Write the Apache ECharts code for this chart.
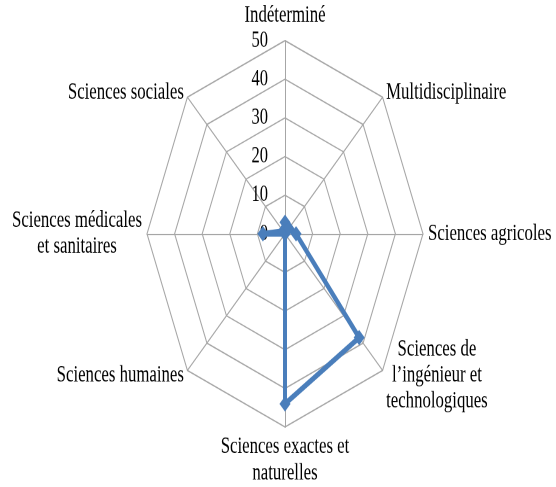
<!DOCTYPE html>
<html>
<head>
<meta charset="utf-8">
<script src="https://cdn.jsdelivr.net/npm/echarts@6/dist/echarts.min.js"></script>
<style>
  html, body { margin: 0; padding: 0; background: #ffffff; overflow: hidden; }
  #wrap { width: 556px; height: 487px; overflow: hidden; }
  /* the reference picture is stretched vertically, so is this one */
  #chart { width: 556px; height: 348px; transform: scaleY(1.4); transform-origin: 0 0; }
</style>
</head>
<body>
<div id="wrap"><div id="chart"></div></div>
<script>
  // axes, clockwise from the top
  const categories = [
    'Indéterminé',
    'Multidisciplinaire',
    'Sciences agricoles',
    'Sciences de\nl’ingénieur et\ntechnologiques',
    'Sciences exactes et\nnaturelles',
    'Sciences humaines',
    'Sciences médicales\net sanitaires',
    'Sciences sociales'
  ];
  const values = [3, 2, 4, 38, 44, 0, 8, 1];
  const tickLabels = ['0', '10', '20', '30', '40', '50'];
  const axisMax = 50;

  const font = 'Liberation Serif';
  const grey = '#a6a6a6';
  const blue = '#4a7ebb';

  // echarts lays radar axes out counter-clockwise
  const order = [0, 7, 6, 5, 4, 3, 2, 1];

  const indicator = order.map((i, k) => {
    const ind = { name: categories[i], min: 0, max: axisMax };
    if (k === 0) ind.axisLabel = { show: true };
    return ind;
  });

  const chart = echarts.init(document.getElementById('chart'), null, { devicePixelRatio: 2 });

  chart.setOption({
    animation: false,
    radar: {
      center: [285, 167],
      radius: 138,
      startAngle: 90,
      shape: 'polygon',
      splitNumber: tickLabels.length - 1,
      indicator: indicator,
      axisNameGap: 5,
      axisName: {
        color: '#000',
        fontFamily: font,
        fontSize: 16.8,
        lineHeight: 18.6,
        formatter: function (name) {
          return name.split('\n').map(s => '{c|' + s + '}').join('\n');
        },
        rich: {
          c: { align: 'center', color: '#000', fontFamily: font, fontSize: 16.8, lineHeight: 18.6 }
        }
      },
      axisLabel: {
        show: false,
        color: '#000',
        fontFamily: font,
        fontSize: 16.5,
        margin: 17,
        formatter: function (v) {
          return tickLabels[Math.round(v / (axisMax / (tickLabels.length - 1)))];
        }
      },
      axisTick: { show: false },
      axisLine: { lineStyle: { color: grey, width: 1 } },
      splitLine: { lineStyle: { color: grey, width: 1 } },
      splitArea: { show: false }
    },
    series: [{
      type: 'radar',
      symbol: 'diamond',
      symbolSize: 11,
      lineStyle: { color: blue, width: 4 },
      itemStyle: { color: blue },
      data: [{ value: order.map(i => values[i]) }]
    }]
  });
</script>
</body>
</html>
